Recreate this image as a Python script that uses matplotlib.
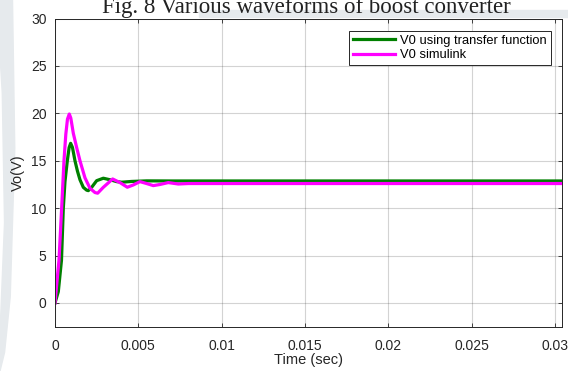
import numpy as np
import matplotlib.pyplot as plt
from matplotlib.patches import Polygon, Rectangle

plt.rcParams['font.family'] = ['Liberation Sans', 'DejaVu Sans']

# values
t_tf = [0, 0.0002, 0.00039, 0.0005, 0.0006, 0.00074, 0.00085, 0.00094, 0.00105, 0.0012,
        0.00135, 0.0015, 0.0017, 0.0019, 0.002, 0.0022, 0.0025, 0.0029, 0.0033, 0.0037,
        0.004, 0.0046, 0.0055, 0.007, 0.0304]
v_tf = [0, 1.2, 4.5, 10.0, 12.8, 15.0, 16.4, 16.84, 16.4, 15.0,
        13.9, 13.0, 12.2, 11.9, 11.85, 12.2, 12.9, 13.16, 13.0, 12.8,
        12.74, 12.82, 12.88, 12.87, 12.87]

t_sim = [0, 0.00024, 0.0004, 0.00054, 0.00065, 0.00075, 0.00086, 0.00095, 0.0011, 0.0013,
         0.0015, 0.0018, 0.0021, 0.0024, 0.00256, 0.0029, 0.00346, 0.0039, 0.00434, 0.0047,
         0.0051, 0.0055, 0.0059, 0.0063, 0.0068, 0.0074, 0.008, 0.0304]
v_sim = [0, 4.5, 10.0, 15.0, 17.8, 19.4, 19.93, 19.5, 17.9, 16.4,
         15.0, 13.2, 12.1, 11.65, 11.58, 12.2, 13.08, 12.7, 12.21, 12.45,
         12.8, 12.6, 12.38, 12.5, 12.7, 12.55, 12.6, 12.6]

x_ticks = [0, 0.005, 0.01, 0.015, 0.02, 0.025, 0.03]
x_labels = ['0', '0.005', '0.01', '0.015', '0.02', '0.025', '0.03']
y_ticks = [0, 5, 10, 15, 20, 25, 30]

fig = plt.figure(figsize=(5.68, 3.71), dpi=100)

# faint watermark behind the figure
wm = '#e6eaed'
fig.patches.append(Polygon([[0, 1], [0.022, 1], [0.026, 0.6], [0.018, 0.2], [0.008, 0.05],
                            [0, 0.0], [0, 0.1], [0.008, 0.4], [0.004, 0.75], [0, 0.85]],
                           closed=True, transform=fig.transFigure, color=wm, zorder=-5))
fig.patches.append(Rectangle((0.35, 0.955), 0.65, 0.018, transform=fig.transFigure,
                             color=wm, zorder=-5))

ax = fig.add_axes([0.0968, 0.1194, 0.8918, 0.8306])
ax.plot(t_tf, v_tf, color='#008000', lw=2.3, label='V0 using transfer function')
ax.plot(t_sim, v_sim, color='#ff00ff', lw=2.3, label='V0 simulink')

ax.set_xlim(0, 0.0304)
ax.set_ylim(-2.5, 30)
ax.set_xticks(x_ticks)
ax.set_xticklabels(x_labels)
ax.set_yticks(y_ticks)
ax.tick_params(direction='in', length=3, width=0.6, colors='#262626', labelsize=10,
               top=True, right=True, pad=6)
ax.tick_params(axis='x', pad=9)
for s in ax.spines.values():
    s.set_color('#262626')
    s.set_linewidth(0.7)
ax.grid(True, color='#262626', alpha=0.2, lw=0.8)

ax.set_xlabel('Time (sec)', fontsize=10.5, color='#262626', labelpad=0)
ax.set_ylabel('Vo(V)', fontsize=10.5, color='#262626')
ax.yaxis.set_label_coords(-0.06, 0.5)

leg = ax.legend(loc='upper right', bbox_to_anchor=(0.979, 0.960), borderaxespad=0,
                fontsize=9.3, fancybox=False, framealpha=1, edgecolor='#262626',
                handlelength=3.3, handletextpad=0.4, borderpad=0.3, labelspacing=0.2)
leg.get_frame().set_linewidth(0.7)

fig.text(0.539, 0.966, 'Fig. 8 Various waveforms of boost converter', ha='center',
         va='baseline', fontsize=16.5, family='Liberation Serif', color='#222222')

fig.savefig('out.png', dpi=100)
